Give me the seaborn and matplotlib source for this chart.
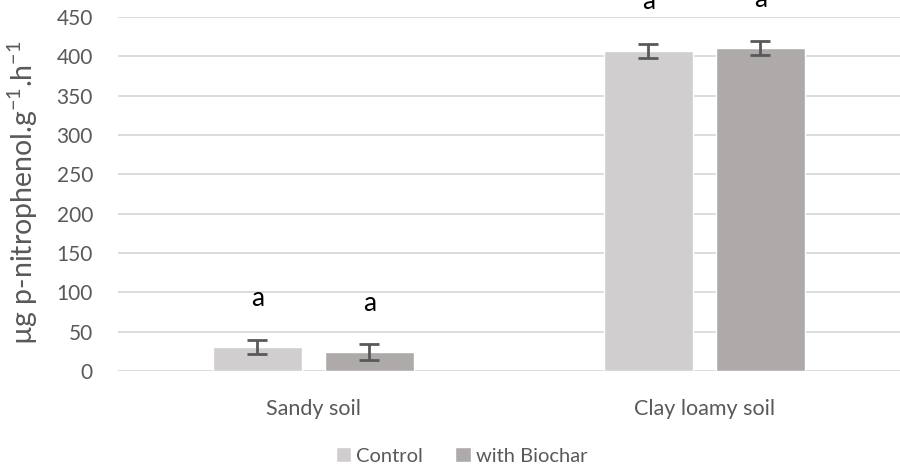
import pandas as pd
import seaborn as sns
import matplotlib.pyplot as plt

# values
soils = ["Sandy soil", "Clay loamy soil"]
treatments = ["Control", "with Biochar"]
control_vals = [30, 407]
biochar_vals = [24, 410]
control_err = [9, 9]
biochar_err = [10, 9]
letters_control = ["a", "a"]
letters_biochar = ["a", "a"]

df = pd.DataFrame({
    "soil": soils * 2,
    "treatment": [treatments[0]] * 2 + [treatments[1]] * 2,
    "value": control_vals + biochar_vals,
    "err": control_err + biochar_err,
    "letter": letters_control + letters_biochar,
})

sns.set_style("white")
plt.rcParams['font.family'] = ['Lato', 'DejaVu Sans']
plt.rcParams['mathtext.default'] = 'regular'

fig = plt.figure(figsize=(9, 4.69), dpi=100)
ax = fig.add_axes([0.131, 0.209, 0.869, 0.755])

palette = {"Control": "#D0CECE", "with Biochar": "#AEAAAA"}
sns.barplot(data=df, x="soil", y="value", hue="treatment", palette=palette,
            width=0.573, gap=0.2, errorbar=None, saturation=1, ax=ax, zorder=3)

# error bars and letters placed from the bar patches
for cont, tr in zip(ax.containers, treatments):
    sub = df[df["treatment"] == tr]
    for bar, (_, row) in zip(cont, sub.iterrows()):
        cx = bar.get_x() + bar.get_width() / 2
        ax.errorbar(cx, row["value"], yerr=row["err"], color="#595959",
                    capsize=7, capthick=2, elinewidth=2, zorder=4)
        ax.text(cx, row["value"] + 62, row["letter"], ha="center", va="center",
                fontsize=19, color="black", clip_on=False)

ax.set_xlim(-0.5, 1.5)
ax.set_ylim(0, 450)
ax.set_yticks(range(0, 451, 50))
ax.yaxis.grid(True, color="#D9D9D9", linewidth=1.3, zorder=0)
ax.set_axisbelow(True)
for s in ax.spines.values():
    s.set_visible(False)
ax.tick_params(axis="y", length=0, labelsize=15, labelcolor="#595959", pad=18)
ax.tick_params(axis="x", length=0, labelsize=15.5, labelcolor="#595959", pad=20)
ax.set_xlabel("")
ax.set_ylabel("µg p-nitrophenol.g$^{-1}$.h$^{-1}$", fontsize=20.5, color="#595959")
ax.yaxis.set_label_coords(-0.1, 0.505)

handles, labels = ax.get_legend_handles_labels()
ax.legend(handles, labels, loc="center", bbox_to_anchor=(0.5 - 0.131 / 2 + 0.005, -0.24),
          ncol=2, frameon=False, fontsize=14.5, handlelength=0.75, handleheight=0.75,
          columnspacing=1.6, handletextpad=0.25, labelcolor="#595959")

fig.savefig("out.png", dpi=100)
